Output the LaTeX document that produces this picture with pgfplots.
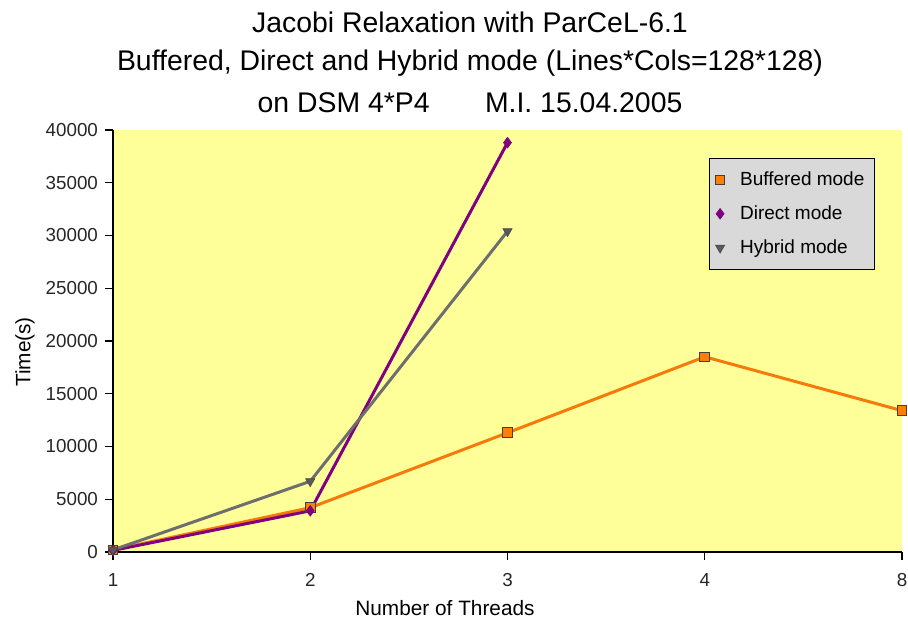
\documentclass[border=0pt]{standalone}
\usepackage{pgfplots}
\pgfplotsset{compat=1.18}
\usepackage{fontspec}
\setmainfont{Liberation Sans}
\definecolor{bgyellow}{HTML}{FFFF99}
\definecolor{legendgray}{HTML}{D9D9D9}
\definecolor{borange}{HTML}{FF8000}
\definecolor{lorange}{HTML}{F57A0A}
\definecolor{dpurple}{HTML}{800080}
\definecolor{hgray}{HTML}{6E6E6E}
\definecolor{mgray}{HTML}{5A5A5A}
\begin{document}
\begin{tikzpicture}
\path[use as bounding box] (0,0) rectangle (454pt,-312pt);
\begin{axis}[
  at={(56.5pt,-276pt)}, anchor=south west,
  scale only axis, width=394.5pt, height=211pt,
  xmin=0, xmax=4, ymin=0, ymax=40000,
  xtick={0,1,2,3,4}, xticklabels={1,2,3,4,8},
  ytick={0,5000,...,40000},
  axis x line*=bottom, axis y line*=left,
  xtick pos=bottom, ytick pos=left,
  tick align=outside, major tick length=4pt,
  axis line style={line width=0.7pt},
  every tick/.style={black, line width=0.7pt},
  axis background/.style={fill=bgyellow},
  scaled y ticks=false,
  yticklabel style={/pgf/number format/.cd, 1000 sep={}, fixed},
  xticklabel style={yshift=-3pt},
  /pgf/number format/assume math mode=true,
  tick label style={font=\fontsize{9.4}{11}\selectfont, text=black!85},
  clip=false,
  legend style={at={(0.755,0.934)}, anchor=north west, fill=legendgray, draw=black, line width=0.6pt,
    font=\fontsize{9.5}{11}\selectfont, row sep=4.6pt, inner xsep=3pt, inner ysep=4.5pt,
    cells={anchor=west}},
  legend image code/.code={\path[draw=none] (0pt,0pt) -- (10pt,0pt); \draw[#1] plot coordinates {(2pt,0pt)};},
  legend cell align=left,
]
\addplot[color=lorange, line width=1.5pt, mark=square*, mark size=2.4pt,
  mark options={fill=borange, draw=black!75, line width=0.5pt}]
  coordinates {(0,200) (1,4200) (2,11300) (3,18500) (4,13400)};
\addlegendentry{Buffered mode}
\addplot[color=dpurple, line width=1.5pt, mark=diamond*, mark size=2.6pt,
  mark options={fill=dpurple, draw=dpurple, line width=0.4pt}]
  coordinates {(0,150) (1,3900) (2,38800)};
\addlegendentry{Direct mode}
\addplot[color=hgray, line width=1.5pt, mark=triangle*, mark size=2.6pt,
  mark options={rotate=180, fill=mgray, draw=black!70, line width=0.4pt}]
  coordinates {(0,200) (1,6700) (2,30400)};
\addlegendentry{Hybrid mode}
\end{axis}
\node[font=\fontsize{14.2}{16}\selectfont] at (235pt,-11pt) {Jacobi Relaxation with ParCeL-6.1};
\node[font=\fontsize{14.2}{16}\selectfont] at (235pt,-31.5pt) {Buffered, Direct and Hybrid mode (Lines*Cols=128*128)};
\node[font=\fontsize{14.2}{16}\selectfont] at (235pt,-51.5pt) {on DSM 4*P4\hspace{1.95em}M.I. 15.04.2005};
\node[font=\fontsize{10.4}{12}\selectfont, rotate=90] at (12.5pt,-176pt) {Time(s)};
\node[font=\fontsize{10.4}{12}\selectfont] at (222.5pt,-304pt) {Number of Threads};
\end{tikzpicture}
\end{document}
